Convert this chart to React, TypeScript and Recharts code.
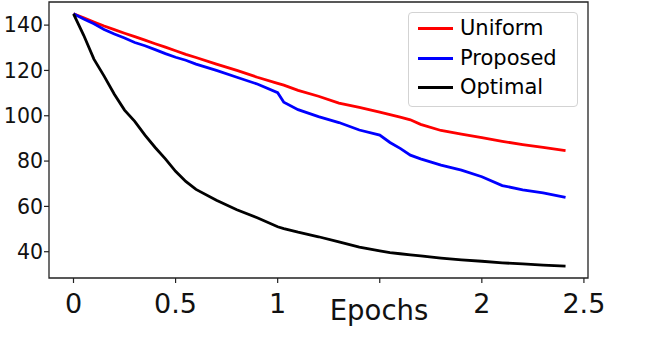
import { LineChart, Line, XAxis, YAxis, Legend, ReferenceArea } from 'recharts'

const epochs = [
  0, 0.05, 0.1, 0.15, 0.2, 0.25, 0.3, 0.35, 0.4, 0.45, 0.5, 0.55, 0.6, 0.7, 0.8, 0.9, 1.0, 1.03,
  1.1, 1.2, 1.3, 1.4, 1.5, 1.55, 1.6, 1.65, 1.7, 1.8, 1.9, 2.0, 2.1, 2.2, 2.3, 2.41,
]

const uniform = [
  145, 143.2, 141.4, 139.6, 138, 136.4, 134.9, 133.4, 131.8, 130.3, 128.7, 127.1, 125.7, 122.8,
  120, 117, 114.3, 113.5, 111.2, 108.6, 105.6, 103.7, 101.6, 100.5, 99.4, 98.2, 96.2, 93.5, 91.9,
  90.3, 88.7, 87.3, 86, 84.6,
]

const proposed = [
  145, 142.7, 140.6, 138.1, 136.1, 134.3, 132.3, 130.9, 129.2, 127.4, 125.8, 124.5, 122.8, 120,
  117, 114, 110.2, 106, 102.7, 99.6, 97, 93.7, 91.5, 88.2, 85.6, 82.6, 81, 78.2, 76, 73.1, 69.2,
  67.3, 66, 64,
]

const optimal = [
  145, 135.5, 125, 117.5, 109.5, 102.5, 97.5, 91.5, 86, 81, 75.5, 71, 67.5, 62.7, 58.5, 55, 51,
  50.2, 48.6, 46.6, 44.3, 42, 40.4, 39.6, 39.1, 38.6, 38.2, 37.2, 36.4, 35.8, 35.1, 34.6, 34.1,
  33.6,
]

const xTicks = [0, 0.5, 1, 1.5, 2, 2.5]
const yTicks = [40, 60, 80, 100, 120, 140]

const series = [
  { key: 'uniform', name: 'Uniform', color: '#ff0000' },
  { key: 'proposed', name: 'Proposed', color: '#0000ff' },
  { key: 'optimal', name: 'Optimal', color: '#000000' },
]

const data = epochs.map((e, i) => ({
  epoch: e,
  uniform: uniform[i],
  proposed: proposed[i],
  optimal: optimal[i],
}))

const FONT = '"DejaVu Sans", Verdana, sans-serif'

function LegendBox() {
  return (
    <div
      style={{
        border: '1.3px solid #d3d3d3',
        borderRadius: 4,
        background: '#fff',
        padding: '1px 0 0 9px',
        height: 95,
        boxSizing: 'border-box',
        fontFamily: FONT,
      }}
    >
      {series.map((s) => (
        <div key={s.key} style={{ display: 'flex', alignItems: 'center', height: 29.5 }}>
          <span style={{ width: 35, height: 3, background: s.color, marginRight: 7 }} />
          <span style={{ fontSize: 21, color: '#000', lineHeight: 1 }}>{s.name}</span>
        </div>
      ))}
    </div>
  )
}

export default function App() {
  return (
    <div style={{ position: 'absolute', left: 0, top: 0, background: '#fff' }}>
      <LineChart
        width={658}
        height={350}
        data={data}
        margin={{ top: 2, right: 70, bottom: 0, left: 0 }}
        style={{ fontFamily: FONT }}
      >
        <XAxis
          dataKey="epoch"
          type="number"
          domain={[-0.12, 2.52]}
          allowDataOverflow
          ticks={xTicks}
          tickFormatter={(v) => (v === 1.5 ? '' : String(v))}
          height={72}
          tickSize={5}
          tickMargin={11}
          axisLine={false}
          tickLine={{ stroke: '#222', strokeWidth: 1.2 }}
          tick={{ fontSize: 27, fill: '#111' }}
          label={{
            content: () => (
              <text x={379} y={320} textAnchor="middle" fontSize={27.5} fill="#111" fontFamily={FONT}>
                Epochs
              </text>
            ),
          }}
        />
        <YAxis
          type="number"
          domain={[28.4, 150.2]}
          allowDataOverflow
          ticks={yTicks}
          width={49}
          tickSize={5}
          tickMargin={1}
          axisLine={false}
          tickLine={{ stroke: '#222', strokeWidth: 1.2 }}
          tick={{ fontSize: 20.5, fill: '#111' }}
        />
        <ReferenceArea
          x1={-0.12}
          x2={2.52}
          y1={28.4}
          y2={150.2}
          fill="none"
          stroke="#222"
          strokeWidth={1.3}
          ifOverflow="visible"
        />
        {series.map((s) => (
          <Line
            key={s.key}
            dataKey={s.key}
            name={s.name}
            type="linear"
            stroke={s.color}
            strokeWidth={2.8}
            dot={false}
            isAnimationActive={false}
          />
        ))}
        <Legend
          layout="vertical"
          align="center"
          verticalAlign="middle"
          content={() => <LegendBox />}
          wrapperStyle={{ left: 408, top: 12, width: 170, right: 'auto', bottom: 'auto' }}
        />
      </LineChart>
    </div>
  )
}
